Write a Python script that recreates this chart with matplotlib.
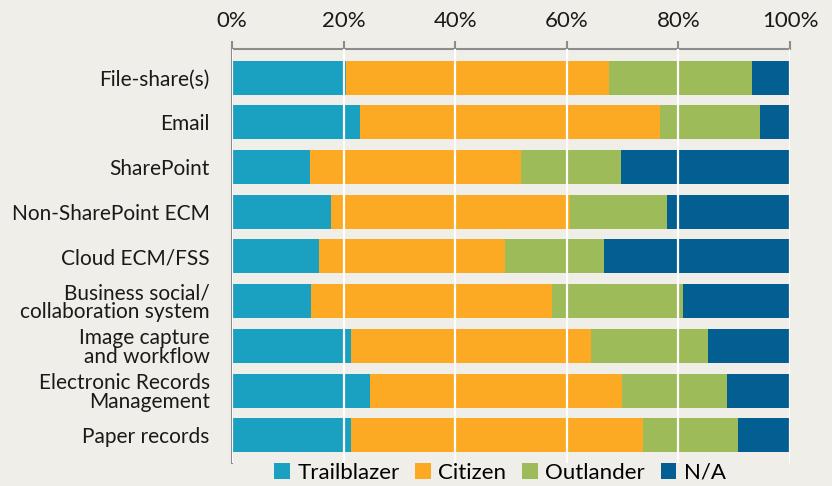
import matplotlib.pyplot as plt
import numpy as np

# categorias (de cima para baixo) e valores em % de cada grupo
categorias = ["File-share(s)", "Email", "SharePoint", "Non-SharePoint ECM",
              "Cloud ECM/FSS", "Business social/\ncollaboration system",
              "Image capture\nand workflow", "Electronic Records\nManagement",
              "Paper records"]
trailblazer = [20.5, 23.0, 14.0, 17.7, 15.6, 14.2, 21.3, 24.7, 21.3]
citizen = [47.1, 53.7, 37.8, 42.8, 33.3, 43.2, 43.1, 45.2, 52.3]
outlander = [25.6, 17.9, 17.9, 17.5, 17.8, 23.4, 20.9, 18.8, 17.1]
na = [6.8, 5.4, 30.3, 22.0, 33.3, 19.2, 14.7, 11.3, 9.3]

series = ["Trailblazer", "Citizen", "Outlander", "N/A"]
cores = ["#1AA0C1", "#FCA923", "#9DBB59", "#035E91"]
fundo = "#EFEEE8"

plt.rcParams['font.family'] = ['Lato', 'DejaVu Sans']

fig = plt.figure(figsize=(8.32, 4.86), dpi=100, facecolor=fundo)
ax = fig.add_axes([232 / 832, 1 - 463 / 486, 558 / 832, (463 - 49) / 486])
ax.set_facecolor(fundo)

y = np.arange(len(categorias))
esquerda = np.zeros(len(categorias))
for nome, valores, cor in zip(series, [trailblazer, citizen, outlander, na], cores):
    ax.barh(y, valores, left=esquerda, height=0.76, color=cor, label=nome)
    esquerda += np.array(valores)

ax.set_xlim(0, 100)
ax.set_ylim(8.62, -0.64)
ax.set_xticks(range(0, 101, 20))
ax.set_xticklabels([f"{v}%" for v in range(0, 101, 20)])
ax.xaxis.tick_top()
ax.tick_params(axis='x', direction='out', length=6, width=1.5, color='#8C8C8C',
               labelsize=16, pad=7, labelcolor='#1A1A1A')
ax.set_yticks(y)
ax.set_yticklabels(categorias, linespacing=0.95)
ax.tick_params(axis='y', length=0, labelsize=15, pad=16, labelcolor='#1A1A1A')

ax.set_axisbelow(False)
ax.xaxis.grid(True, color='white', linewidth=1.6)

for lado in ['right', 'bottom']:
    ax.spines[lado].set_visible(False)
for lado in ['top', 'left']:
    ax.spines[lado].set_color('#8C8C8C')
    ax.spines[lado].set_linewidth(1.5)

leg = fig.legend(loc='lower center', bbox_to_anchor=(500 / 832, -0.012), ncol=4,
                 frameon=False, fontsize=16, handlelength=0.7, handleheight=0.7,
                 handletextpad=0.35, columnspacing=0.7, borderaxespad=0)

fig.savefig("out.png", dpi=100, facecolor=fundo)
